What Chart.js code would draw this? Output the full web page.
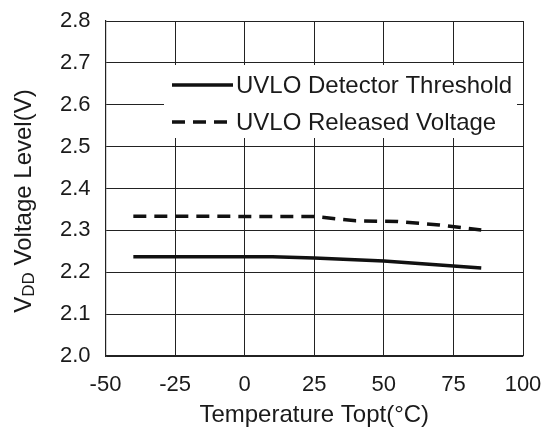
<!DOCTYPE html>
<html>
<head>
<meta charset="utf-8">
<script src="https://cdn.jsdelivr.net/npm/chart.js@4"></script>
<style>
  html, body { margin: 0; padding: 0; background: #fff; }
  #wrap { width: 552px; height: 430px; }
</style>
</head>
<body>
<div id="wrap"><canvas id="uvloChart" width="552" height="430"></canvas></div>
<script>
// values
var detectorTemps = [-40, 10, 25, 50, 85];
var detectorVolts = [2.237, 2.237, 2.234, 2.227, 2.21];
var releasedTemps = [-40, 25, 40, 55, 70, 85];
var releasedVolts = [2.334, 2.333, 2.323, 2.321, 2.313, 2.301];
var xTicks = [-50, -25, 0, 25, 50, 75, 100];
var yTicks = [2.0, 2.1, 2.2, 2.3, 2.4, 2.5, 2.6, 2.7, 2.8];
var seriesNames = ['UVLO Detector Threshold', 'UVLO Released Voltage'];

var FONT = "'Liberation Sans', Arial, sans-serif";
var INK = '#1a1a1a';

var toPoints = function(xs, ys){
    return xs.map(function(x, i){ return {x: x, y: ys[i]}; });
};

// legend box, axis titles (y title has a subscript)
var extras = {
    id: 'extras',
    afterDraw: function(chart){
        var ctx = chart.ctx;
        ctx.save();

        // legend
        ctx.fillStyle = '#fff';
        ctx.fillRect(164, 65, 353, 73);
        var rows = [85, 122];
        chart.data.datasets.forEach(function(ds, i){
            ctx.strokeStyle = ds.borderColor;
            ctx.lineWidth = ds.borderWidth;
            ctx.setLineDash(ds.borderDash || []);
            ctx.beginPath();
            ctx.moveTo(172, rows[i]);
            ctx.lineTo(233, rows[i]);
            ctx.stroke();
            ctx.setLineDash([]);
            ctx.fillStyle = INK;
            ctx.font = '24px ' + FONT;
            ctx.textBaseline = 'middle';
            ctx.textAlign = 'left';
            ctx.fillText(ds.label, 236, rows[i] + 1);
        });

        // y title
        ctx.translate(24, 201);
        ctx.rotate(-Math.PI / 2);
        ctx.fillStyle = INK;
        ctx.textBaseline = 'middle';
        ctx.textAlign = 'left';
        var big = '24px ' + FONT, small = '17px ' + FONT;
        ctx.font = big;
        var wV = ctx.measureText('V').width;
        var wRest = ctx.measureText(' Voltage Level(V)').width;
        ctx.font = small;
        var wDD = ctx.measureText('DD').width;
        var x0 = -(wV + wDD + wRest) / 2;
        ctx.font = big;
        ctx.fillText('V', x0, 0);
        ctx.font = small;
        ctx.fillText('DD', x0 + wV, 5);
        ctx.font = big;
        ctx.fillText(' Voltage Level(V)', x0 + wV + wDD, 0);
        ctx.restore();

        // x title
        ctx.save();
        ctx.fillStyle = INK;
        ctx.font = '24px ' + FONT;
        ctx.textAlign = 'center';
        ctx.textBaseline = 'middle';
        ctx.fillText('Temperature Topt(\u00B0C)', (chart.chartArea.left + chart.chartArea.right) / 2, 415);
        ctx.restore();
    }
};

Chart.defaults.font.family = FONT;
Chart.defaults.color = INK;

new Chart(document.getElementById('uvloChart'), {
    type: 'line',
    data: {
        datasets: [
            {
                label: seriesNames[0],
                data: toPoints(detectorTemps, detectorVolts),
                borderColor: '#111',
                borderWidth: 3.5,
                pointRadius: 0,
                tension: 0,
                fill: false
            },
            {
                label: seriesNames[1],
                data: toPoints(releasedTemps, releasedVolts),
                borderColor: '#111',
                borderWidth: 3.5,
                borderDash: [13, 8],
                pointRadius: 0,
                tension: 0,
                fill: false
            }
        ]
    },
    options: {
        responsive: false,
        animation: false,
        devicePixelRatio: 1,
        layout: { padding: { top: 21, right: 29, left: 0, bottom: 0 } },
        plugins: {
            legend: { display: false },
            tooltip: { enabled: false }
        },
        scales: {
            x: {
                type: 'linear',
                min: xTicks[0],
                max: xTicks[xTicks.length - 1],
                afterBuildTicks: function(scale){
                    scale.ticks = xTicks.map(function(v){ return {value: v}; });
                },
                afterFit: function(scale){ scale.height = 74; },
                ticks: { font: { size: 22 }, padding: 2, maxRotation: 0, color: INK },
                grid: { color: '#222', lineWidth: 1, drawTicks: true, tickLength: 14, tickColor: 'rgba(0,0,0,0)' },
                border: { color: '#222', width: 1.2 }
            },
            y: {
                min: yTicks[0],
                max: yTicks[yTicks.length - 1],
                afterBuildTicks: function(scale){
                    scale.ticks = yTicks.map(function(v){ return {value: v}; });
                },
                afterFit: function(scale){ scale.width = 105.5; },
                ticks: {
                    font: { size: 22 },
                    padding: 2,
                    color: INK,
                    callback: function(v){ return Number(v).toFixed(1); }
                },
                grid: { color: '#222', lineWidth: 1, drawTicks: true, tickLength: 13, tickColor: 'rgba(0,0,0,0)' },
                border: { color: '#222', width: 1.2 }
            }
        }
    },
    plugins: [extras]
});
</script>
</body>
</html>
